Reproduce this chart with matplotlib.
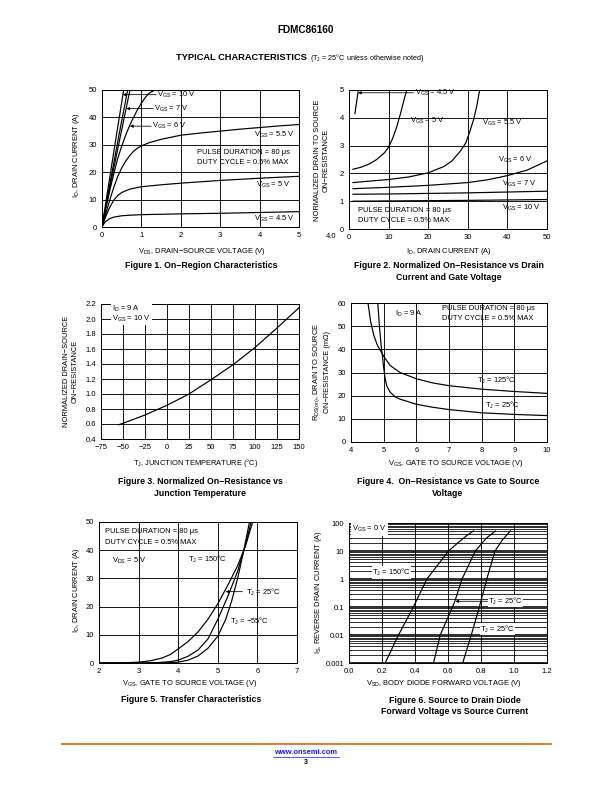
import matplotlib
matplotlib.use('Agg')
import matplotlib.pyplot as plt
from matplotlib.lines import Line2D
from matplotlib.ticker import FixedLocator, FixedFormatter, NullFormatter

plt.rcParams['font.family'] = ['Liberation Sans', 'DejaVu Sans']
plt.rcParams['mathtext.fontset'] = 'custom'
plt.rcParams['mathtext.rm'] = 'Liberation Sans'
plt.rcParams['mathtext.it'] = 'Liberation Sans:italic'
plt.rcParams['mathtext.bf'] = 'Liberation Sans:bold'

# ---------------- Figure 1 data: On-region characteristics ----------------
f1_vds_10 = [0, 0.15, 0.3, 0.45, 0.55]
f1_id_10 = [0, 13.8, 27.5, 41, 50]
f1_vds_8 = [0, 0.15, 0.3, 0.45, 0.6, 0.65]
f1_id_8 = [0, 11.8, 23.5, 35, 46.2, 50]
f1_vds_7 = [0, 0.15, 0.3, 0.45, 0.6, 0.71]
f1_id_7 = [0, 10.8, 21.5, 32, 42.4, 50]
f1_vds_6 = [0, 0.1, 0.2, 0.3, 0.4, 0.5, 0.6, 0.7, 0.8, 0.9, 1.0, 1.1, 1.2, 1.35]
f1_id_6 = [0, 7, 13.5, 19.5, 25, 29.5, 33.5, 37, 40, 42.8, 45.2, 47.3, 48.9, 50]
f1_vds_55 = [0, 0.1, 0.2, 0.3, 0.4, 0.5, 0.6, 0.7, 0.8, 0.9, 1.0, 1.2, 1.5, 2, 2.5, 3, 3.5, 4, 4.5, 5]
f1_id_55 = [0, 5, 10, 14.5, 18.5, 21.5, 24, 26, 27.6, 28.8, 29.6, 30.8, 32, 33.5, 34.3, 35, 35.7, 36.3, 36.9, 37.4]
f1_vds_5 = [0, 0.1, 0.2, 0.3, 0.4, 0.5, 0.7, 1, 1.5, 2, 3, 4, 5]
f1_id_5 = [0, 4, 7.3, 9.8, 11.5, 12.6, 13.8, 14.7, 15.4, 16, 17, 17.8, 18.5]
f1_vds_45 = [0, 0.05, 0.1, 0.2, 0.3, 0.5, 0.7, 1, 2, 3, 4, 5]
f1_id_45 = [0, 1.2, 2.1, 3.1, 3.6, 4.1, 4.3, 4.5, 4.8, 5.0, 5.3, 5.6]

# ---------------- Figure 2 data: normalized Rds(on) vs ID ----------------
f2_id_45 = [1.5, 1.8, 2.1, 2.35]
f2_r_45 = [4.15, 4.45, 4.75, 5.0]
f2_id_5 = [1, 3, 5, 7, 9, 10, 11, 12, 13, 14, 14.6]
f2_r_5 = [2.15, 2.22, 2.33, 2.5, 2.75, 2.95, 3.25, 3.65, 4.15, 4.7, 5.0]
f2_id_55 = [1, 5, 10, 15, 20, 24, 26, 28, 29.5, 30.5, 31.5, 32.3, 33]
f2_r_55 = [1.67, 1.72, 1.78, 1.87, 2.02, 2.25, 2.45, 2.78, 3.1, 3.5, 3.95, 4.45, 5.0]
f2_id_6 = [1, 10, 20, 30, 35, 40, 45, 50]
f2_r_6 = [1.45, 1.5, 1.57, 1.67, 1.77, 1.92, 2.12, 2.45]
f2_id_7 = [1, 10, 20, 30, 40, 50]
f2_r_7 = [1.25, 1.26, 1.28, 1.3, 1.33, 1.36]
f2_id_10 = [1, 10, 20, 30, 40, 50]
f2_r_10 = [1.0, 1.01, 1.02, 1.03, 1.045, 1.06]

# ---------------- Figure 3 data: normalized Rds(on) vs Tj ----------------
f3_tj = [-55, -50, -25, 0, 25, 50, 75, 100, 125, 150]
f3_r = [0.59, 0.61, 0.72, 0.85, 1.0, 1.19, 1.39, 1.62, 1.88, 2.15]

# ---------------- Figure 4 data: Rds(on) vs VGS ----------------
f4_vgs_125 = [4.52, 4.6, 4.7, 4.8, 4.9, 5.0, 5.2, 5.5, 6, 6.5, 7, 8, 9, 10]
f4_r_125 = [60, 52, 46, 42, 39.5, 37, 33, 30, 27.3, 25.5, 24.3, 22.8, 21.8, 21.0]
f4_vgs_25 = [4.82, 4.87, 4.92, 4.97, 5.0, 5.05, 5.1, 5.2, 5.35, 5.5, 6, 6.5, 7, 8, 9, 10]
f4_r_25 = [60, 50, 42, 36, 32, 27, 24, 21.5, 19.5, 18.5, 16.3, 15, 14, 12.6, 11.9, 11.4]

# ---------------- Figure 5 data: transfer characteristics ----------------
f5_vgs_150 = [2.0, 2.6, 3.0, 3.3, 3.6, 3.8, 4.0, 4.25, 4.5, 4.75, 5.0, 5.25, 5.5, 5.7, 5.88]
f5_id_150 = [0, 0.05, 0.3, 0.8, 1.8, 3.0, 5.0, 7.6, 11, 15.5, 21, 27.5, 34.5, 41.5, 50]
f5_vgs_25 = [2.0, 3.0, 3.5, 3.8, 4.0, 4.25, 4.5, 4.75, 5.0, 5.25, 5.5, 5.7, 5.84]
f5_id_25 = [0, 0.02, 0.15, 0.5, 1.0, 2.4, 4.6, 8.5, 15.5, 23.5, 32.5, 42, 50]
f5_vgs_m55 = [2.0, 3.5, 3.8, 4.0, 4.25, 4.5, 4.75, 5.0, 5.2, 5.35, 5.5, 5.65, 5.8]
f5_id_m55 = [0, 0.02, 0.12, 0.3, 1.0, 2.5, 5.2, 9.5, 15.5, 22, 30, 39.5, 50]

# ---------------- Figure 6 data: body diode ----------------
f6_vsd_150 = [0.219, 0.30, 0.39, 0.472, 0.603, 0.67, 0.72, 0.755]
f6_is_150 = [0.001, 0.01, 0.1, 1, 10, 22, 38, 52]
f6_vsd_25 = [0.512, 0.553, 0.64, 0.685, 0.766, 0.83, 0.887]
f6_is_25 = [0.001, 0.01, 0.15, 1, 10, 28, 52]
f6_vsd_m55 = [0.689, 0.741, 0.79, 0.835, 0.885, 0.93, 0.978]
f6_is_m55 = [0.001, 0.01, 0.1, 1, 10, 25, 52]

W, H = 612, 792
fig = plt.figure(figsize=(W / 72, H / 72), dpi=72)


def add_ax(l, r, t, b):
    return fig.add_axes([l / W, 1 - b / H, (r - l) / W, (b - t) / H])


def ftext(x, y, s, **kw):
    kw.setdefault('ha', 'center')
    kw.setdefault('va', 'center')
    return fig.text(x / W, 1 - y / H, s, **kw)


TICK = 7.6
LBL = 7.5
CAP = 8.8
TS = 7.5   # annotation text size
LW = 1.2
PAD = 5
WB = dict(facecolor='white', edgecolor='none', pad=0.5)


def style(ax, xlim, ylim, xticks, yticks, xlabels=None, ylabels=None):
    ax.set_xlim(xlim)
    ax.set_ylim(ylim)
    ax.xaxis.set_major_locator(FixedLocator(xticks))
    ax.yaxis.set_major_locator(FixedLocator(yticks))
    if xlabels is not None:
        ax.xaxis.set_major_formatter(FixedFormatter(xlabels))
    if ylabels is not None:
        ax.yaxis.set_major_formatter(FixedFormatter(ylabels))
    ax.grid(True, color='k', lw=0.9)
    ax.set_axisbelow(True)
    ax.tick_params(length=0, labelsize=TICK, pad=PAD)
    for s in ax.spines.values():
        s.set_linewidth(1.0)


def arrow(ax, tip, start):
    ax.annotate('', xy=tip, xytext=start,
                arrowprops=dict(arrowstyle='-|>', color='k', lw=0.8,
                                mutation_scale=6, shrinkA=0, shrinkB=0))


# ---------------- Header / footer ----------------
ftext(306, 30, 'FDMC86160', fontsize=10, fontweight='bold')
t_hdr = ftext(176, 58, 'TYPICAL CHARACTERISTICS ', fontsize=9.3,
              fontweight='bold', ha='left')
fig.canvas.draw()
bb = t_hdr.get_window_extent()
fig.text(bb.x1 / fig.dpi / fig.get_figwidth(), 1 - 58 / H,
         '(T$_\\mathrm{J}$ = 25°C unless otherwise noted)', fontsize=7.2,
         ha='left', va='center')

fig.add_artist(Line2D([62 / W, 551 / W], [1 - 744 / H, 1 - 744 / H],
                      color='#D9823B', lw=2))
ftext(306, 752, 'www.onsemi.com', fontsize=7.5, fontweight='bold',
      color='#1a1aee')
fig.add_artist(Line2D([273 / W, 339 / W], [1 - 756.5 / H, 1 - 756.5 / H],
                      color='#1a1aee', lw=0.7))
ftext(306, 763, '3', fontsize=7, fontweight='bold')

# ---------------- Figure 1 ----------------
ax1 = add_ax(102, 299, 90, 227)
for x, y in [(f1_vds_10, f1_id_10), (f1_vds_8, f1_id_8), (f1_vds_7, f1_id_7),
             (f1_vds_6, f1_id_6), (f1_vds_55, f1_id_55), (f1_vds_5, f1_id_5),
             (f1_vds_45, f1_id_45)]:
    ax1.plot(x, y, color='k', lw=LW)
style(ax1, (0, 5), (0, 50), [0, 1, 2, 3, 4, 5], [0, 10, 20, 30, 40, 50])
ax1.text(1.4, 48.3, 'V$_\\mathrm{GS}$ = 10 V', fontsize=TS, va='center')
arrow(ax1, (0.53, 48.3), (1.37, 48.3))
ax1.text(1.33, 43.2, 'V$_\\mathrm{GS}$ = 7 V', fontsize=TS, va='center')
arrow(ax1, (0.62, 43.2), (1.3, 43.2))
ax1.text(1.28, 36.8, 'V$_\\mathrm{GS}$ = 6 V', fontsize=TS, va='center')
arrow(ax1, (0.71, 36.8), (1.25, 36.8))
ax1.text(4.9, 33.6, 'V$_\\mathrm{GS}$ = 5.5 V', fontsize=TS, va='center', ha='right')
ax1.text(2.42, 27.3, 'PULSE DURATION = 80 μs', fontsize=TS, va='center')
ax1.text(2.42, 23.4, 'DUTY CYCLE = 0.5% MAX', fontsize=TS, va='center')
ax1.text(4.78, 15.5, 'V$_\\mathrm{GS}$ = 5 V', fontsize=TS, va='center', ha='right')
ax1.text(4.9, 2.8, 'V$_\\mathrm{GS}$ = 4.5 V', fontsize=TS, va='center', ha='right')
ftext(202, 251.5, 'V$_\\mathrm{DS}$, DRAIN−SOURCE VOLTAGE (V)', fontsize=LBL)
ftext(77, 155, 'I$_\\mathrm{D}$, DRAIN CURRENT (A)', fontsize=LBL, rotation=90)
ftext(201, 266, 'Figure 1. On−Region Characteristics', fontsize=CAP,
      fontweight='bold')

# ---------------- Figure 2 ----------------
ax2 = add_ax(349, 547, 90, 229)
for x, y in [(f2_id_45, f2_r_45), (f2_id_5, f2_r_5), (f2_id_55, f2_r_55),
             (f2_id_6, f2_r_6), (f2_id_7, f2_r_7), (f2_id_10, f2_r_10)]:
    ax2.plot(x, y, color='k', lw=LW)
style(ax2, (0, 50), (0, 5), [0, 10, 20, 30, 40, 50], [0, 1, 2, 3, 4, 5])
ax2.text(16.7, 4.9, 'V$_\\mathrm{GS}$ = 4.5 V', fontsize=TS, va='center')
arrow(ax2, (2.3, 4.9), (16.3, 4.9))
ax2.text(15.4, 3.9, 'V$_\\mathrm{GS}$ = 5 V', fontsize=TS, va='center')
ax2.text(33.5, 3.8, 'V$_\\mathrm{GS}$ = 5.5 V', fontsize=TS, va='center')
ax2.text(37.6, 2.48, 'V$_\\mathrm{GS}$ = 6 V', fontsize=TS, va='center')
ax2.text(38.6, 1.62, 'V$_\\mathrm{GS}$ = 7 V', fontsize=TS, va='center')
ax2.text(38.6, 0.76, 'V$_\\mathrm{GS}$ = 10 V', fontsize=TS, va='center')
ax2.text(2.3, 0.68, 'PULSE DURATION = 80 μs', fontsize=TS, va='center')
ax2.text(2.3, 0.3, 'DUTY CYCLE = 0.5% MAX', fontsize=TS, va='center')
ftext(449, 251.5, 'I$_\\mathrm{D}$, DRAIN CURRENT (A)', fontsize=LBL)
ftext(322, 160, 'NORMALIZED DRAIN TO SOURCE\nON−RESISTANCE', fontsize=LBL,
      rotation=90, multialignment='center', linespacing=1.25)
ftext(331, 237, '4.0', fontsize=7.5)
ftext(449, 266, 'Figure 2. Normalized On−Resistance vs Drain', fontsize=CAP,
      fontweight='bold')
ftext(449, 277.5, 'Current and Gate Voltage', fontsize=CAP, fontweight='bold')

# ---------------- Figure 3 ----------------
ax3 = add_ax(101, 299, 304, 439)
ax3.plot(f3_tj, f3_r, color='k', lw=LW)
style(ax3, (-75, 150), (0.4, 2.2), list(range(-75, 151, 25)),
      [0.4, 0.6, 0.8, 1.0, 1.2, 1.4, 1.6, 1.8, 2.0, 2.2],
      ylabels=['0.4', '0.6', '0.8', '1.0', '1.2', '1.4', '1.6', '1.8', '2.0', '2.2'])
ax3.text(-62, 2.065, 'I$_\\mathrm{D}$ = 9 A\nV$_\\mathrm{GS}$ = 10 V', fontsize=TS,
         va='center', linespacing=1.0, bbox=dict(facecolor='white',
                                                  edgecolor='none', pad=1.0))
ftext(196, 463, 'T$_\\mathrm{J}$, JUNCTION TEMPERATURE (°C)', fontsize=LBL)
ftext(71, 371, 'NORMALIZED DRAIN−SOURCE\nON−RESISTANCE', fontsize=LBL,
      rotation=90, multialignment='center', linespacing=1.25)
ftext(200, 482, 'Figure 3. Normalized On−Resistance vs', fontsize=CAP,
      fontweight='bold')
ftext(200, 493.5, 'Junction Temperature', fontsize=CAP, fontweight='bold')

# ---------------- Figure 4 ----------------
ax4 = add_ax(351, 547, 303, 442)
ax4.plot(f4_vgs_125, f4_r_125, color='k', lw=LW)
ax4.plot(f4_vgs_25, f4_r_25, color='k', lw=LW)
style(ax4, (4, 10), (0, 60), [4, 5, 6, 7, 8, 9, 10], [0, 10, 20, 30, 40, 50, 60])
ax4.text(5.35, 55.3, 'I$_\\mathrm{D}$ = 9 A', fontsize=TS, va='center')
ax4.text(6.8, 57.6, 'PULSE DURATION = 80 μs', fontsize=TS, va='center')
ax4.text(6.8, 53.2, 'DUTY CYCLE = 0.5% MAX', fontsize=TS, va='center')
ax4.text(7.85, 26.8, 'T$_\\mathrm{J}$ = 125°C', fontsize=TS, va='center')
ax4.text(8.1, 16.0, 'T$_\\mathrm{J}$ = 25°C', fontsize=TS, va='center')
ftext(456, 463.5, 'V$_\\mathrm{GS}$, GATE TO SOURCE VOLTAGE (V)', fontsize=LBL)
ftext(321, 372, 'R$_\\mathrm{DS(on)}$, DRAIN TO SOURCE\nON−RESISTANCE (mΩ)',
      fontsize=LBL, rotation=90, multialignment='center', linespacing=1.25)
ftext(448, 482, 'Figure 4.  On−Resistance vs Gate to Source', fontsize=CAP,
      fontweight='bold')
ftext(448, 493.5, 'Voltage', fontsize=CAP, fontweight='bold')

# ---------------- Figure 5 ----------------
ax5 = add_ax(99, 297, 522, 663)
ax5.plot(f5_vgs_150, f5_id_150, color='k', lw=LW)
ax5.plot(f5_vgs_25, f5_id_25, color='k', lw=LW)
ax5.plot(f5_vgs_m55, f5_id_m55, color='k', lw=LW)
style(ax5, (2, 7), (0, 50), [2, 3, 4, 5, 6, 7], [0, 10, 20, 30, 40, 50])
ax5.text(2.15, 46.6, 'PULSE DURATION = 80 μs', fontsize=TS, va='center')
ax5.text(2.15, 42.8, 'DUTY CYCLE = 0.5% MAX', fontsize=TS, va='center')
ax5.text(2.32, 36.3, 'V$_\\mathrm{DS}$ = 5 V', fontsize=TS, va='center')
ax5.text(4.26, 36.6, 'T$_\\mathrm{J}$ = 150°C', fontsize=TS, va='center')
ax5.text(5.7, 25.0, 'T$_\\mathrm{J}$ = 25°C', fontsize=TS, va='center')
arrow(ax5, (5.2, 25.3), (5.62, 25.3))
ax5.text(5.3, 14.6, 'T$_\\mathrm{J}$ = −55°C', fontsize=TS, va='center')
ftext(190, 683.5, 'V$_\\mathrm{GS}$, GATE TO SOURCE VOLTAGE (V)', fontsize=LBL)
ftext(77, 590, 'I$_\\mathrm{D}$, DRAIN CURRENT (A)', fontsize=LBL, rotation=90)
ftext(191, 699.5, 'Figure 5. Transfer Characteristics', fontsize=CAP,
      fontweight='bold')

# ---------------- Figure 6 ----------------
ax6 = add_ax(349, 547, 523, 663)
ax6.set_yscale('log')
ax6.plot(f6_vsd_150, f6_is_150, color='k', lw=LW, zorder=3)
ax6.plot(f6_vsd_25, f6_is_25, color='k', lw=LW, zorder=3)
ax6.plot(f6_vsd_m55, f6_is_m55, color='k', lw=LW, zorder=3)
ax6.set_xlim(0, 1.2)
ax6.set_ylim(0.001, 100)
ax6.xaxis.set_major_locator(FixedLocator([0, 0.2, 0.4, 0.6, 0.8, 1.0, 1.2]))
ax6.xaxis.set_major_formatter(FixedFormatter(['0.0', '0.2', '0.4', '0.6', '0.8', '1.0', '1.2']))
ax6.yaxis.set_major_locator(FixedLocator([0.001, 0.01, 0.1, 1, 10, 100]))
ax6.yaxis.set_major_formatter(FixedFormatter(['0.001', '0.01', '0.1', '1', '10', '100']))
minors = [m * 10.0 ** e for e in range(-3, 2) for m in range(2, 10)]
ax6.yaxis.set_minor_locator(FixedLocator(minors))
ax6.yaxis.set_minor_formatter(NullFormatter())
ax6.grid(True, which='major', axis='x', color='k', lw=0.9)
ax6.grid(True, which='major', axis='y', color='k', lw=1.6)
ax6.grid(True, which='minor', axis='y', color='k', lw=0.8)
ax6.set_axisbelow(True)
ax6.tick_params(which='both', length=0, labelsize=TICK, pad=PAD)
for s in ax6.spines.values():
    s.set_linewidth(1.0)
ax6.text(0.02, 60, 'V$_\\mathrm{GS}$ = 0 V', fontsize=TS, va='center',
         bbox=dict(facecolor='white', edgecolor='none', pad=1.2))
ax6.text(0.14, 1.7, 'T$_\\mathrm{J}$ = 150°C', fontsize=TS, va='center', bbox=WB)
ax6.text(0.845, 0.16, 'T$_\\mathrm{J}$ = 25°C', fontsize=TS, va='center', bbox=WB)
arrow(ax6, (0.645, 0.16), (0.84, 0.16))
ax6.text(0.796, 0.016, 'T$_\\mathrm{J}$ = 25°C', fontsize=TS, va='center', bbox=WB)
ftext(444, 683.5, 'V$_\\mathrm{SD}$, BODY DIODE FORWARD VOLTAGE (V)', fontsize=LBL)
ftext(318, 592, 'I$_\\mathrm{S}$, REVERSE DRAIN CURRENT (A)', fontsize=LBL, rotation=90)
ftext(455, 700.5, 'Figure 6. Source to Drain Diode', fontsize=CAP,
      fontweight='bold')
ftext(455, 712, 'Forward Voltage vs Source Current', fontsize=CAP,
      fontweight='bold')

fig.savefig('out.png', dpi=72)
